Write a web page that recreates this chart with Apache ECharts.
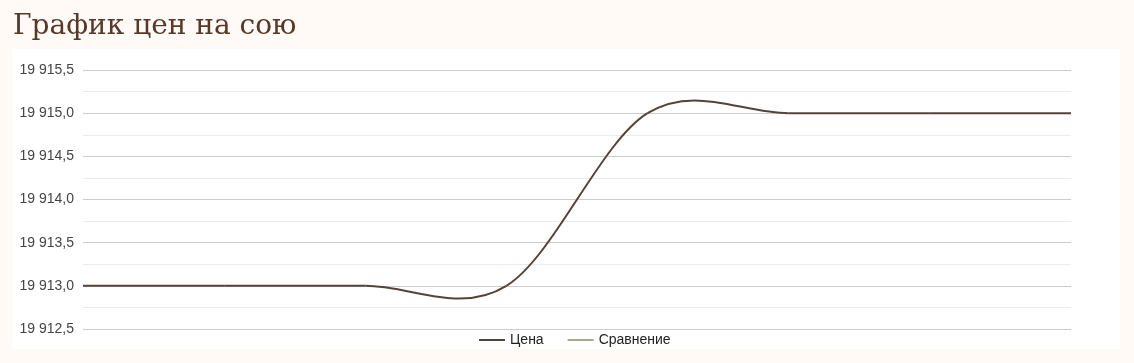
<!DOCTYPE html>
<html>
<head>
<meta charset="utf-8">
<script src="https://cdn.jsdelivr.net/npm/echarts@6/dist/echarts.min.js"></script>
<style>
html,body{margin:0;padding:0;background:#fffaf6;}
#chart{width:1134px;height:363px;}
</style>
</head>
<body>
<div id="chart"></div>
<script>
// ---- data ----
var titleText = 'График цен на сою';
var seriesNames = ['Цена', 'Сравнение'];
var pointIndex = [0, 1, 2, 3, 4, 5, 6, 7];
var priceValues = [19913, 19913, 19913, 19913, 19915, 19915, 19915, 19915];
var compareValues = [];
var yTicks = [19912.5, 19913.0, 19913.5, 19914.0, 19914.5, 19915.0, 19915.5];

function fmt(v) {
  var s = v.toFixed(1).split('.');
  var intPart = s[0].replace(/\B(?=(\d{3})+(?!\d))/g, ' ');
  return intPart + ',' + s[1];
}

var chart = echarts.init(document.getElementById('chart'));

function renderSegment(params, api) {
  var i = params.dataIndex;
  var n = priceValues.length;
  if (i >= n - 1) return null;
  function P(k) {
    k = Math.max(0, Math.min(n - 1, k));
    return api.coord([pointIndex[k], priceValues[k]]);
  }
  var p0 = P(i - 1), p1 = P(i), p2 = P(i + 1), p3 = P(i + 2);
  return {
    type: 'bezierCurve',
    shape: {
      x1: p1[0], y1: p1[1],
      x2: p2[0], y2: p2[1],
      cpx1: p1[0] + (p2[0] - p0[0]) / 6,
      cpy1: p1[1] + (p2[1] - p0[1]) / 6,
      cpx2: p2[0] - (p3[0] - p1[0]) / 6,
      cpy2: p2[1] - (p3[1] - p1[1]) / 6
    },
    style: { stroke: '#56423b', lineWidth: 2, fill: null }
  };
}

chart.setOption({
  backgroundColor: '#fffaf6',
  animation: false,
  title: {
    text: titleText,
    left: 8,
    top: 8,
    textStyle: { fontFamily: 'DejaVu Serif', fontSize: 28, fontWeight: 'normal', color: '#56392c' }
  },
  graphic: [{
    type: 'rect',
    z: -10,
    shape: { x: 12, y: 49, width: 1108, height: 300 },
    style: { fill: '#ffffff' },
    silent: true
  }],
  legend: {
    bottom: 11,
    left: 474,
    itemWidth: 26,
    itemHeight: 2,
    itemGap: 24,
    textStyle: { fontFamily: 'Liberation Sans', fontSize: 14, color: '#222' },
    data: [
      { name: seriesNames[0], icon: 'rect' },
      { name: seriesNames[1], icon: 'rect' }
    ]
  },
  grid: { left: 83, right: 63, top: 70, bottom: 34, containLabel: false },
  xAxis: {
    type: 'value',
    min: pointIndex[0],
    max: pointIndex[pointIndex.length - 1],
    show: false
  },
  yAxis: {
    type: 'value',
    min: yTicks[0],
    max: yTicks[yTicks.length - 1],
    interval: 0.5,
    axisLine: { show: false },
    axisTick: { show: false },
    axisLabel: {
      formatter: fmt,
      margin: 9,
      fontFamily: 'Liberation Sans',
      fontSize: 14,
      color: '#444'
    },
    splitLine: { lineStyle: { color: '#cccccc', width: 1 } },
    minorTick: { show: false, splitNumber: 2 },
    minorSplitLine: { show: true, lineStyle: { color: '#ebebeb', width: 1 } }
  },
  series: [
    {
      name: seriesNames[0],
      type: 'custom',
      itemStyle: { color: '#56423b' },
      renderItem: renderSegment,
      encode: { x: 0, y: 1 },
      data: pointIndex.map(function (x, k) { return [x, priceValues[k]]; })
    },
    {
      name: seriesNames[1],
      type: 'line',
      itemStyle: { color: '#a6a893' },
      lineStyle: { color: '#a6a893' },
      data: compareValues
    }
  ]
});
</script>
</body>
</html>
